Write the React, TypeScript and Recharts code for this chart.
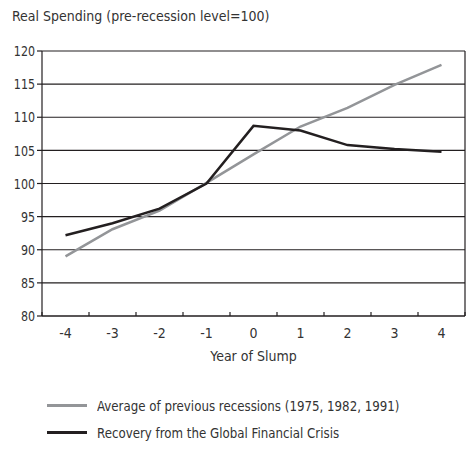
import React from 'react';
import { LineChart, Line, XAxis, YAxis, CartesianGrid, ReferenceLine } from 'recharts';

// Year of slump (0 = recession year)
const years = [-4, -3, -2, -1, 0, 1, 2, 3, 4];
// Average of previous recessions (1975, 1982, 1991)
const previousAvg = [89.0, 93.1, 95.9, 100.1, 104.4, 108.6, 111.4, 114.9, 117.9];
// Recovery from the Global Financial Crisis
const gfcRecovery = [92.2, 94.0, 96.2, 100.0, 108.7, 108.0, 105.8, 105.2, 104.8];

const yTicks = [80, 85, 90, 95, 100, 105, 110, 115, 120];
// tick marks sit between the years, labels on the years
const xTicks = [-4.5, -4, -3.5, -3, -2.5, -2, -1.5, -1, -0.5, 0, 0.5, 1, 1.5, 2, 2.5, 3, 3.5, 4, 4.5];

const seriesNames = ['Average of previous recessions (1975, 1982, 1991)', 'Recovery from the Global Financial Crisis'];
const seriesColors = ['#939598', '#231f20'];

const FONT = '"DejaVu Sans Condensed", "Liberation Sans Narrow", sans-serif';
const INK = '#231f20';
const TEXT = '#333';

const chartData = years.map((year, i) => ({
    year,
    prev: previousAvg[i],
    gfc: gfcRecovery[i],
}));

// x tick: short mark for half values, a label for whole years
const XTick = (props: any) => {
    const { x, y, payload } = props;
    const v = payload.value;
    if (!Number.isInteger(v)) {
        return <line x1={x} y1={y} x2={x} y2={y - 4} stroke={INK} strokeWidth={1.2} />;
    }
    return (
        <text x={x} y={y + 22} textAnchor="middle" fill={TEXT} fontSize={14} fontFamily={FONT}>
            {String(v)}
        </text>
    );
};

// y tick label, squeezed a little to look like the narrow original
const YTick = (props: any) => {
    const { x, y, payload } = props;
    return (
        <text
            transform={`translate(${x},${y}) scale(0.85,1)`}
            textAnchor="end"
            dy="0.36em"
            fill={TEXT}
            fontSize={14.5}
            fontFamily={FONT}
        >
            {String(payload.value)}
        </text>
    );
};

const App: React.FC = () => {
    return (
        <div style={{ position: 'absolute', left: 0, top: 0, width: 467, height: 459, background: '#fff', fontFamily: FONT }}>
            <div style={{ position: 'absolute', left: 12, top: 8, fontSize: 14, color: TEXT, whiteSpace: 'nowrap' }}>
                Real Spending (pre-recession level=100)
            </div>
            <LineChart width={467} height={459} data={chartData} margin={{ top: 51, right: 2, left: 0, bottom: 83 }}>
                <CartesianGrid vertical={false} stroke={INK} strokeWidth={1.2} />
                <XAxis
                    dataKey="year"
                    type="number"
                    domain={[-4.5, 4.5]}
                    ticks={xTicks}
                    interval={0}
                    tickLine={false}
                    tickSize={0}
                    tickMargin={0}
                    tick={<XTick />}
                    axisLine={{ stroke: INK, strokeWidth: 1.2 }}
                    height={60}
                    label={{ value: 'Year of Slump', position: 'insideBottom', offset: 15, fill: TEXT, fontSize: 14, fontFamily: FONT }}
                />
                <YAxis
                    domain={[80, 120]}
                    ticks={yTicks}
                    width={42}
                    tickSize={5}
                    tickMargin={2}
                    tickLine={{ stroke: INK, strokeWidth: 1.2 }}
                    axisLine={{ stroke: INK, strokeWidth: 1.2 }}
                    tick={<YTick />}
                />
                <ReferenceLine x={4.5} stroke={INK} strokeWidth={1.2} />
                <Line
                    dataKey="prev"
                    name={seriesNames[0]}
                    type="linear"
                    stroke={seriesColors[0]}
                    strokeWidth={2.5}
                    dot={false}
                    isAnimationActive={false}
                />
                <Line
                    dataKey="gfc"
                    name={seriesNames[1]}
                    type="linear"
                    stroke={seriesColors[1]}
                    strokeWidth={2.5}
                    dot={false}
                    isAnimationActive={false}
                />
            </LineChart>
            {/* legend */}
            <div style={{ position: 'absolute', left: 47, top: 392, fontSize: 14, color: TEXT }}>
                {seriesNames.map((name, i) => (
                    <div key={name} style={{ display: 'flex', alignItems: 'center', height: 27 }}>
                        <span style={{ display: 'inline-block', width: 40, height: 3, background: seriesColors[i], marginRight: 10 }} />
                        <span style={{ whiteSpace: 'nowrap', display: 'inline-block', transform: 'scaleX(0.94)', transformOrigin: 'left center' }}>
                            {name}
                        </span>
                    </div>
                ))}
            </div>
        </div>
    );
};

export default App;
